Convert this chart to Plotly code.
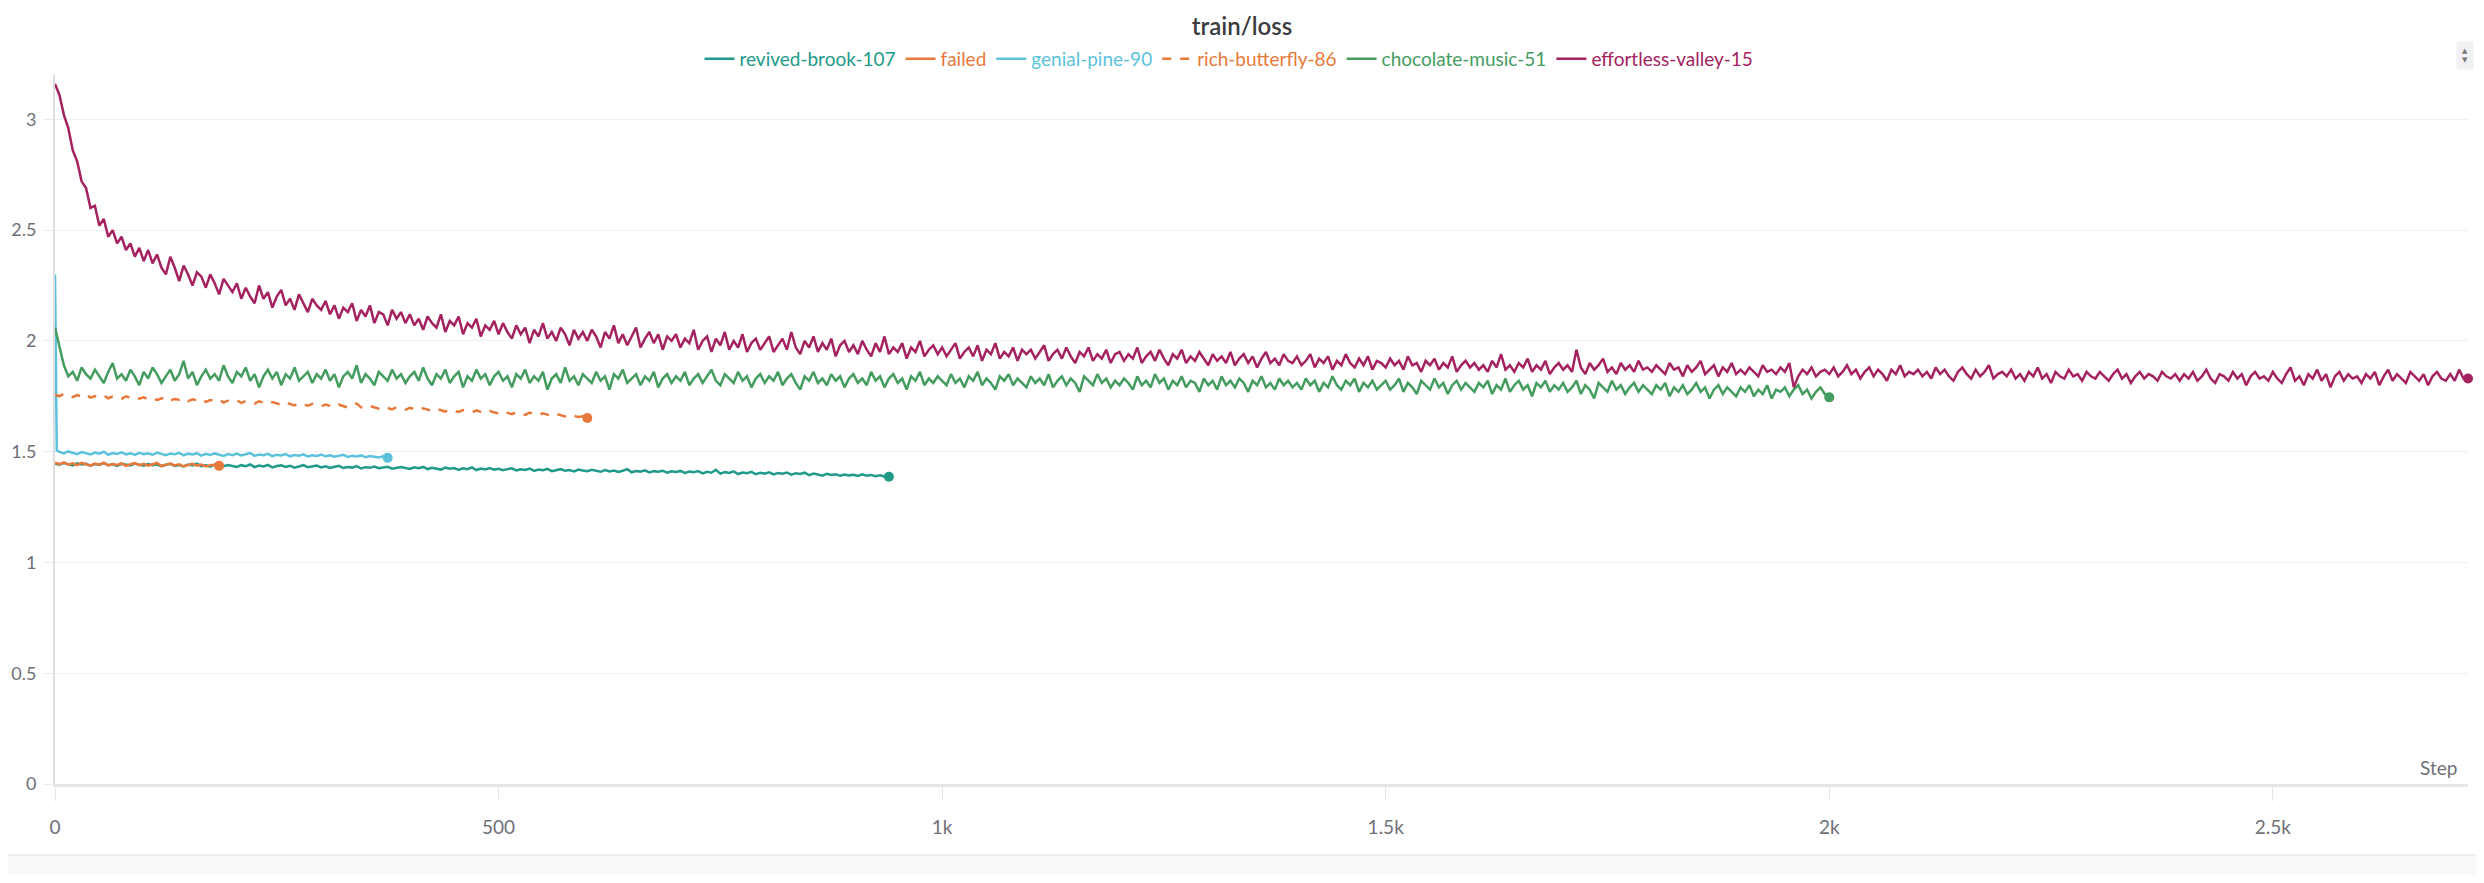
import plotly.graph_objects as go

# ---------------- data ----------------
series_names = ["revived-brook-107", "failed", "genial-pine-90",
                "rich-butterfly-86", "chocolate-music-51", "effortless-valley-15"]
series_colors = ["#229a8a", "#e8793a", "#5cc2dc", "#e8793a", "#449c5f", "#a3225f"]
series_dash = ["solid", "solid", "solid", "dash", "solid", "solid"]

revived_steps = list(range(0, 941, 5))
revived_loss = [
    1.446, 1.441, 1.449, 1.443, 1.438, 1.447, 1.442, 1.445, 1.437, 1.444, 1.440, 1.448, 1.439, 1.443, 1.436, 1.445, 1.441, 1.438, 1.446, 1.440,
    1.437, 1.444, 1.439, 1.442, 1.434, 1.441, 1.445, 1.436, 1.440, 1.433, 1.442, 1.438, 1.446, 1.435, 1.439, 1.432, 1.441, 1.437, 1.434, 1.440,
    1.436, 1.431, 1.439, 1.434, 1.442, 1.430, 1.437, 1.433, 1.440, 1.429, 1.435, 1.438, 1.431, 1.436, 1.428, 1.434, 1.439, 1.430, 1.433, 1.437,
    1.429, 1.434, 1.427, 1.432, 1.436, 1.426, 1.431, 1.428, 1.435, 1.424, 1.430, 1.427, 1.433, 1.425, 1.429, 1.432, 1.423, 1.428, 1.431, 1.426,
    1.422, 1.429, 1.425, 1.431, 1.421, 1.427, 1.424, 1.419, 1.428, 1.423, 1.426, 1.418, 1.425, 1.421, 1.429, 1.417, 1.424, 1.420, 1.426, 1.419,
    1.423, 1.416, 1.421, 1.425, 1.415, 1.420, 1.417, 1.424, 1.413, 1.419, 1.416, 1.422, 1.412, 1.418, 1.421, 1.414, 1.417, 1.411, 1.419, 1.415,
    1.412, 1.418, 1.414, 1.409, 1.417, 1.411, 1.415, 1.408, 1.414, 1.421, 1.407, 1.413, 1.410, 1.416, 1.406, 1.412, 1.409, 1.414, 1.405, 1.411,
    1.408, 1.413, 1.404, 1.410, 1.407, 1.412, 1.402, 1.409, 1.405, 1.418, 1.401, 1.408, 1.404, 1.411, 1.399, 1.406, 1.403, 1.409, 1.398, 1.405,
    1.401, 1.407, 1.397, 1.404, 1.400, 1.406, 1.396, 1.402, 1.399, 1.405, 1.394, 1.401, 1.397, 1.392, 1.400, 1.395, 1.398, 1.391, 1.397, 1.393,
    1.396, 1.390, 1.398, 1.391, 1.395, 1.389, 1.393, 1.388, 1.387,
]

failed_steps = list(range(0, 186, 5))
failed_loss = [
    1.450, 1.444, 1.452, 1.441, 1.447, 1.439, 1.449, 1.443, 1.437, 1.446, 1.441, 1.450, 1.438, 1.444, 1.440, 1.447, 1.436, 1.443, 1.448, 1.439,
    1.445, 1.437, 1.442, 1.449, 1.435, 1.441, 1.446, 1.438, 1.443, 1.434, 1.440, 1.445, 1.437, 1.442, 1.433, 1.439, 1.441, 1.436,
]

genial_steps = [0, 2] + list(range(5, 376, 5))
genial_loss = [
    2.300, 1.505,
    1.499, 1.492, 1.501, 1.494, 1.489, 1.498, 1.493, 1.487, 1.496, 1.491, 1.500, 1.486, 1.494, 1.490, 1.497, 1.488, 1.493, 1.485, 1.495, 1.489,
    1.493, 1.486, 1.496, 1.490, 1.484, 1.492, 1.488, 1.495, 1.483, 1.491, 1.487, 1.493, 1.482, 1.490, 1.485, 1.492, 1.486, 1.481, 1.489, 1.484,
    1.491, 1.483, 1.488, 1.494, 1.481, 1.487, 1.484, 1.490, 1.480, 1.486, 1.483, 1.489, 1.479, 1.485, 1.482, 1.488, 1.478, 1.484, 1.481, 1.487,
    1.479, 1.484, 1.477, 1.482, 1.486, 1.476, 1.481, 1.478, 1.483, 1.475, 1.480, 1.477, 1.474, 1.479, 1.472,
]

rich_steps = list(range(0, 601, 5))
rich_loss = [
    1.757, 1.750, 1.761, 1.752, 1.746, 1.755, 1.749, 1.758, 1.744, 1.751, 1.747, 1.754, 1.741, 1.749, 1.745, 1.738, 1.750, 1.743, 1.747, 1.739,
    1.745, 1.736, 1.742, 1.733, 1.740, 1.746, 1.731, 1.738, 1.734, 1.741, 1.728, 1.736, 1.732, 1.739, 1.725, 1.733, 1.729, 1.736, 1.722, 1.730,
    1.726, 1.732, 1.720, 1.728, 1.724, 1.717, 1.727, 1.721, 1.715, 1.724, 1.718, 1.712, 1.722, 1.716, 1.709, 1.719, 1.713, 1.707, 1.716, 1.710,
    1.704, 1.713, 1.707, 1.701, 1.712, 1.705, 1.699, 1.709, 1.718, 1.700, 1.696, 1.706, 1.700, 1.694, 1.703, 1.697, 1.691, 1.701, 1.695, 1.689,
    1.698, 1.692, 1.687, 1.696, 1.689, 1.684, 1.693, 1.687, 1.681, 1.690, 1.685, 1.679, 1.688, 1.682, 1.677, 1.686, 1.680, 1.674, 1.683, 1.678,
    1.672, 1.681, 1.675, 1.669, 1.678, 1.672, 1.666, 1.676, 1.670, 1.664, 1.673, 1.667, 1.661, 1.670, 1.664, 1.659, 1.667, 1.661, 1.656, 1.660,
    1.652,
]

chocolate_steps = list(range(0, 2001, 5))
chocolate_loss = [
    2.06, 1.97, 1.89, 1.84, 1.86, 1.82, 1.88, 1.85, 1.83, 1.87, 1.84, 1.81, 1.86, 1.90, 1.83, 1.85, 1.82, 1.87, 1.84, 1.80,
    1.86, 1.83, 1.88, 1.85, 1.81, 1.84, 1.87, 1.82, 1.85, 1.91, 1.83, 1.86, 1.80, 1.84, 1.87, 1.83, 1.85, 1.82, 1.89, 1.84,
    1.81, 1.86, 1.84, 1.88, 1.82, 1.85, 1.79, 1.84, 1.87, 1.83, 1.86, 1.80, 1.85, 1.83, 1.88, 1.82, 1.84, 1.86, 1.81, 1.85,
    1.83, 1.87, 1.82, 1.85, 1.79, 1.84, 1.86, 1.83, 1.89, 1.81, 1.85, 1.83, 1.80, 1.86, 1.84, 1.82, 1.87, 1.83, 1.85, 1.81,
    1.84, 1.86, 1.82, 1.88, 1.83, 1.80, 1.85, 1.83, 1.87, 1.81, 1.84, 1.86, 1.79, 1.84, 1.82, 1.87, 1.83, 1.85, 1.80, 1.84,
    1.86, 1.82, 1.84, 1.79, 1.85, 1.83, 1.87, 1.81, 1.84, 1.82, 1.86, 1.78, 1.83, 1.85, 1.81, 1.88, 1.82, 1.84, 1.80, 1.85,
    1.83, 1.81, 1.86, 1.82, 1.84, 1.78, 1.85, 1.83, 1.87, 1.81, 1.83, 1.85, 1.80, 1.84, 1.82, 1.86, 1.79, 1.83, 1.85, 1.81,
    1.84, 1.82, 1.86, 1.80, 1.83, 1.85, 1.81, 1.84, 1.87, 1.82, 1.80, 1.85, 1.83, 1.81, 1.86, 1.82, 1.84, 1.79, 1.83, 1.85,
    1.81, 1.84, 1.82, 1.86, 1.80, 1.83, 1.85, 1.81, 1.78, 1.84, 1.82, 1.86, 1.81, 1.83, 1.80, 1.85, 1.82, 1.84, 1.79, 1.83,
    1.85, 1.81, 1.83, 1.80, 1.86, 1.82, 1.84, 1.79, 1.83, 1.85, 1.81, 1.83, 1.78, 1.84, 1.82, 1.86, 1.80, 1.83, 1.81, 1.84,
    1.82, 1.80, 1.85, 1.81, 1.83, 1.79, 1.84, 1.82, 1.86, 1.80, 1.83, 1.81, 1.78, 1.84, 1.82, 1.85, 1.80, 1.83, 1.81, 1.79,
    1.84, 1.81, 1.83, 1.80, 1.85, 1.79, 1.82, 1.84, 1.80, 1.83, 1.81, 1.77, 1.84, 1.82, 1.80, 1.85, 1.81, 1.83, 1.79, 1.82,
    1.80, 1.83, 1.81, 1.78, 1.84, 1.80, 1.82, 1.79, 1.85, 1.81, 1.83, 1.78, 1.82, 1.80, 1.84, 1.79, 1.82, 1.81, 1.77, 1.83,
    1.80, 1.82, 1.78, 1.84, 1.80, 1.82, 1.79, 1.83, 1.81, 1.77, 1.82, 1.80, 1.84, 1.79, 1.81, 1.78, 1.83, 1.80, 1.82, 1.79,
    1.81, 1.78, 1.83, 1.80, 1.82, 1.77, 1.81, 1.79, 1.84, 1.80, 1.78, 1.82, 1.80, 1.83, 1.77, 1.81, 1.79, 1.82, 1.78, 1.80,
    1.82, 1.78, 1.80, 1.83, 1.77, 1.81, 1.79, 1.76, 1.82, 1.80, 1.78, 1.83, 1.79, 1.81, 1.76, 1.80, 1.82, 1.78, 1.81, 1.79,
    1.77, 1.81, 1.79, 1.82, 1.76, 1.80, 1.78, 1.83, 1.77, 1.80, 1.82, 1.78, 1.80, 1.75, 1.81, 1.79, 1.82, 1.77, 1.80, 1.78,
    1.81, 1.77, 1.79, 1.82, 1.76, 1.80, 1.78, 1.74, 1.81, 1.79, 1.77, 1.82, 1.78, 1.80, 1.76, 1.79, 1.81, 1.77, 1.80, 1.78,
    1.76, 1.80, 1.78, 1.81, 1.75, 1.79, 1.77, 1.80, 1.76, 1.78, 1.81, 1.77, 1.79, 1.74, 1.78, 1.80, 1.76, 1.79, 1.77, 1.75,
    1.79, 1.77, 1.80, 1.75, 1.78, 1.76, 1.80, 1.74, 1.78, 1.77, 1.79, 1.75, 1.78, 1.80, 1.76, 1.78, 1.74, 1.77, 1.79, 1.76,
    1.745,
]

effortless_steps = list(range(0, 2721, 5))
effortless_loss = [
    3.16, 3.11, 3.02, 2.96, 2.86, 2.81, 2.72, 2.69, 2.60, 2.61, 2.52, 2.55, 2.47, 2.50, 2.44, 2.47, 2.41, 2.44, 2.38, 2.42,
    2.36, 2.41, 2.35, 2.39, 2.33, 2.30, 2.38, 2.33, 2.27, 2.34, 2.30, 2.25, 2.31, 2.29, 2.24, 2.30, 2.26, 2.21, 2.28, 2.25,
    2.22, 2.26, 2.19, 2.24, 2.20, 2.17, 2.25, 2.19, 2.22, 2.15, 2.20, 2.23, 2.16, 2.19, 2.14, 2.21, 2.17, 2.13, 2.19, 2.16,
    2.14, 2.18, 2.12, 2.16, 2.10, 2.15, 2.13, 2.17, 2.09, 2.14, 2.11, 2.16, 2.08, 2.13, 2.12, 2.07, 2.14, 2.10, 2.13, 2.08,
    2.12, 2.07, 2.10, 2.05, 2.11, 2.08, 2.06, 2.12, 2.04, 2.09, 2.07, 2.11, 2.03, 2.08, 2.06, 2.10, 2.02, 2.07, 2.05, 2.09,
    2.03, 2.08, 2.04, 2.01, 2.07, 2.03, 2.06, 1.99, 2.05, 2.02, 2.08, 2.01, 2.04, 2.00, 2.06, 2.03, 1.98, 2.05, 2.01, 2.04,
    2.00, 2.05, 2.02, 1.97, 2.04, 2.01, 2.07, 1.99, 2.03, 1.98, 2.02, 2.06, 1.97, 2.01, 2.04, 1.99, 2.03, 1.96, 2.02, 2.00,
    2.03, 1.97, 2.01, 1.99, 2.05, 1.96, 2.00, 2.02, 1.95, 2.01, 1.98, 2.04, 1.96, 2.00, 1.97, 2.03, 1.95, 1.99, 2.01, 1.96,
    1.99, 2.02, 1.95, 1.98, 2.01, 1.96, 2.04, 1.97, 1.94, 2.00, 1.97, 2.02, 1.95, 1.99, 1.96, 2.01, 1.93, 1.98, 2.00, 1.95,
    1.98, 1.94, 2.00, 1.96, 1.93, 1.99, 1.95, 2.02, 1.94, 1.97, 1.95, 1.99, 1.92, 1.97, 1.95, 2.00, 1.93, 1.96, 1.98, 1.94,
    1.97, 1.93, 1.96, 1.99, 1.92, 1.95, 1.97, 1.93, 1.98, 1.91, 1.96, 1.94, 1.99, 1.92, 1.95, 1.93, 1.97, 1.91, 1.96, 1.94,
    1.96, 1.92, 1.95, 1.98, 1.91, 1.94, 1.96, 1.92, 1.97, 1.93, 1.90, 1.95, 1.93, 1.97, 1.91, 1.94, 1.92, 1.96, 1.90, 1.94,
    1.95, 1.91, 1.94, 1.92, 1.97, 1.90, 1.93, 1.95, 1.91, 1.96, 1.92, 1.89, 1.94, 1.92, 1.96, 1.90, 1.93, 1.91, 1.95, 1.92,
    1.89, 1.94, 1.91, 1.93, 1.90, 1.95, 1.89, 1.92, 1.94, 1.90, 1.93, 1.88, 1.92, 1.95, 1.90, 1.92, 1.89, 1.94, 1.91, 1.90,
    1.93, 1.89, 1.91, 1.94, 1.88, 1.92, 1.90, 1.93, 1.87, 1.91, 1.89, 1.94, 1.90, 1.88, 1.92, 1.89, 1.93, 1.87, 1.91, 1.90,
    1.88, 1.92, 1.89, 1.91, 1.87, 1.93, 1.89, 1.90, 1.86, 1.91, 1.89, 1.92, 1.87, 1.90, 1.88, 1.93, 1.86, 1.89, 1.91, 1.88,
    1.90, 1.87, 1.89, 1.86, 1.91, 1.88, 1.94, 1.87, 1.89, 1.86, 1.90, 1.88, 1.92, 1.86, 1.89, 1.87, 1.91, 1.85, 1.88, 1.90,
    1.87, 1.89, 1.86, 1.96, 1.88, 1.85, 1.90, 1.87, 1.89, 1.92, 1.86, 1.88, 1.85, 1.90, 1.87, 1.89, 1.86, 1.91, 1.87, 1.88,
    1.86, 1.89, 1.87, 1.85, 1.90, 1.87, 1.88, 1.84, 1.89, 1.86, 1.88, 1.91, 1.85, 1.87, 1.89, 1.84, 1.88, 1.86, 1.90, 1.85,
    1.87, 1.85, 1.88, 1.86, 1.84, 1.89, 1.86, 1.87, 1.85, 1.88, 1.86, 1.90, 1.79, 1.84, 1.87, 1.85, 1.88, 1.84, 1.86, 1.87,
    1.85, 1.88, 1.84, 1.86, 1.89, 1.85, 1.87, 1.83, 1.86, 1.88, 1.84, 1.87, 1.85, 1.82, 1.87, 1.85, 1.89, 1.84, 1.86, 1.85,
    1.87, 1.84, 1.86, 1.83, 1.88, 1.85, 1.87, 1.84, 1.82, 1.86, 1.88, 1.85, 1.83, 1.87, 1.84, 1.86, 1.89, 1.83, 1.85, 1.86,
    1.84, 1.87, 1.83, 1.85, 1.82, 1.86, 1.84, 1.88, 1.83, 1.85, 1.81, 1.86, 1.84, 1.83, 1.87, 1.84, 1.85, 1.82, 1.86, 1.84,
    1.83, 1.86, 1.84, 1.82, 1.85, 1.87, 1.83, 1.85, 1.81, 1.84, 1.86, 1.83, 1.85, 1.84, 1.82, 1.86, 1.84, 1.83, 1.85, 1.82,
    1.85, 1.83, 1.86, 1.82, 1.84, 1.87, 1.83, 1.81, 1.85, 1.84, 1.82, 1.86, 1.83, 1.85, 1.80, 1.84, 1.86, 1.83, 1.84, 1.82,
    1.86, 1.83, 1.81, 1.85, 1.88, 1.82, 1.84, 1.80, 1.85, 1.83, 1.87, 1.82, 1.85, 1.79, 1.84, 1.86, 1.82, 1.85, 1.83, 1.84,
    1.81, 1.85, 1.83, 1.86, 1.80, 1.84, 1.87, 1.82, 1.85, 1.83, 1.81, 1.86, 1.84, 1.82, 1.85, 1.80, 1.84, 1.86, 1.83, 1.82,
    1.85, 1.82, 1.87, 1.83, 1.83,
]

x_tickvals = [0, 500, 1000, 1500, 2000, 2500]
x_ticktext = ["0", "500", "1k", "1.5k", "2k", "2.5k"]
y_tickvals = [0, 0.5, 1, 1.5, 2, 2.5, 3]
y_ticktext = ["0", "0.5", "1", "1.5", "2", "2.5", "3"]

all_steps = [revived_steps, failed_steps, genial_steps, rich_steps, chocolate_steps, effortless_steps]
all_loss = [revived_loss, failed_loss, genial_loss, rich_loss, chocolate_loss, effortless_loss]

# ---------------- figure ----------------
# the page body keeps its default 8px margin, so the figure is sized to fit inside
W, H = 2476, 867
ML, MR, MT, MB = 47, 16, 67, 91
PW, PH = W - ML - MR, H - MT - MB
FONT = "Lato, 'Source Sans Pro', 'Noto Sans', sans-serif"
fig = go.Figure()

for name, color, dash, xs, ys in zip(series_names, series_colors, series_dash, all_steps, all_loss):
    fig.add_trace(go.Scatter(
        x=xs, y=ys, mode="lines",
        name=f'<span style="color:{color}">{name}</span>',
        legendgroup=name,
        line=dict(color=color, width=2.5, dash=dash),
    ))
    fig.add_trace(go.Scatter(
        x=[xs[-1]], y=[ys[-1]], mode="markers",
        legendgroup=name, showlegend=False,
        marker=dict(color=color, size=10),
        cliponaxis=False,
    ))

fig.update_layout(
    width=W, height=H,
    margin=dict(l=ML, r=MR, t=MT, b=MB, pad=0, autoexpand=False),
    paper_bgcolor="white",
    plot_bgcolor="white",
    font=dict(family=FONT, color="#6f6f78", size=19),
    title=dict(
        text="train/loss", x=1234 / W, xref="container", xanchor="center",
        y=1 - 19 / H, yref="container", yanchor="middle",
        font=dict(family=FONT, size=24, color="#3b3b40", weight=600),
    ),
    legend=dict(
        orientation="h", x=1221 / W, xref="container", xanchor="center",
        y=1 - 51 / H, yref="container", yanchor="middle",
        font=dict(family=FONT, size=19), itemwidth=30,
        bgcolor="rgba(0,0,0,0)", tracegroupgap=0,
    ),
    showlegend=True,
    xaxis=dict(
        range=[0, 2720], tickvals=x_tickvals, ticktext=x_ticktext,
        automargin=False,
        showgrid=False, zeroline=False,
        showline=True, linecolor="#e6e6e9", linewidth=3,
        ticks="outside", ticklen=14, tickcolor="#e6e6e9", tickwidth=1,
        ticklabelstandoff=10,
        tickfont=dict(family=FONT, size=19, color="#6f6f78"),
    ),
    yaxis=dict(
        range=[0, 3.2], tickvals=y_tickvals, ticktext=y_ticktext,
        automargin=False,
        showgrid=True, gridcolor="#f0f0f2", gridwidth=1, zeroline=False,
        showline=True, linecolor="#dedee2", linewidth=2,
        ticks="outside", ticklen=9, tickcolor="#ececef", tickwidth=1,
        ticklabelstandoff=4,
        tickfont=dict(family=FONT, size=18, color="#6f6f78"),
    ),
    annotations=[
        dict(text="Step", xref="paper", yref="paper", x=1, y=0,
             xanchor="right", yanchor="bottom", xshift=-9, yshift=3,
             showarrow=False, font=dict(family=FONT, size=19, color="#6f6f78")),
        dict(text="▲<br>▼", xref="paper", yref="paper",
             x=(2457 - ML) / PW, y=(H - MB - 47) / PH,
             xanchor="center", yanchor="middle", showarrow=False,
             font=dict(family="DejaVu Sans", size=7, color="#777777"),
             bgcolor="#f1f1f3", borderpad=5),
    ],
    shapes=[
        dict(type="rect", xref="paper", yref="paper", layer="below",
             x0=-ML / PW, x1=1 + MR / PW, y0=-MB / PH, y1=-(MB - 20) / PH,
             fillcolor="#f8f9fa", line=dict(width=0)),
        dict(type="line", xref="paper", yref="paper", layer="below",
             x0=-ML / PW, x1=1 + MR / PW, y0=-(MB - 20) / PH, y1=-(MB - 20) / PH,
             line=dict(color="#e8e8ea", width=1.5)),
    ],
)

fig.write_html("out.html")
